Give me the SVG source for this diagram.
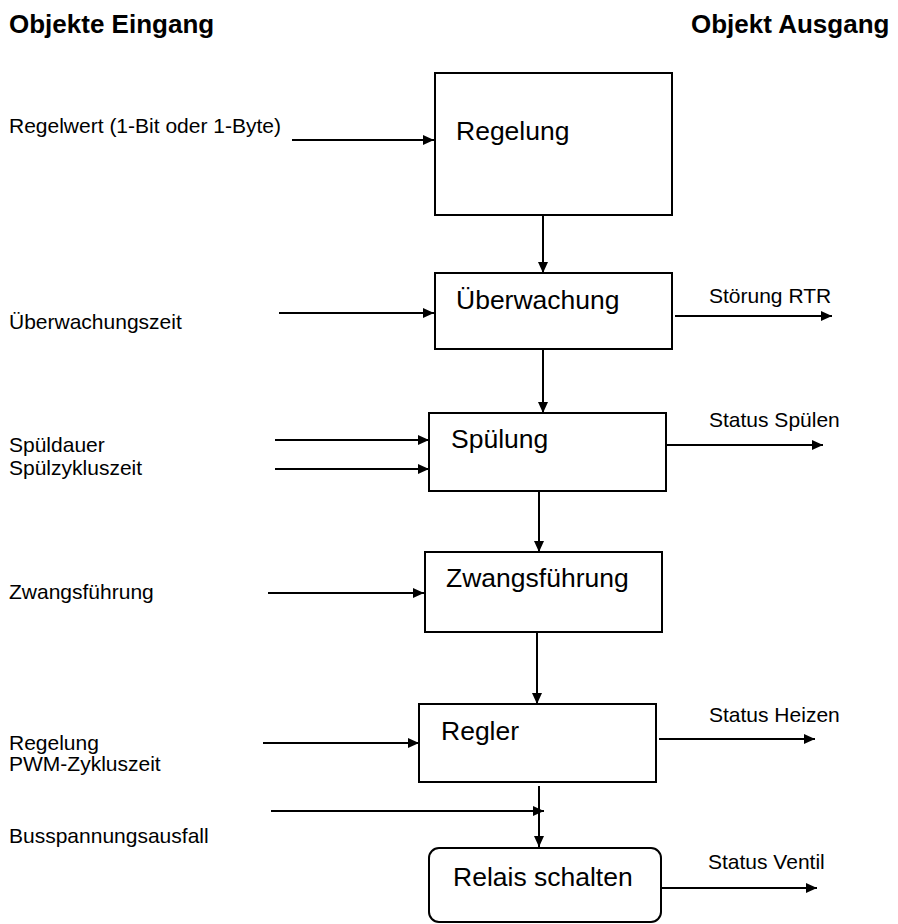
<svg xmlns="http://www.w3.org/2000/svg" width="898" height="924" viewBox="0 0 898 924">
<style>
text{font-family:"Liberation Sans",Arial,sans-serif;fill:#000}
.h{font-size:26px;font-weight:bold}
.b{font-size:26.5px}
.l{font-size:21px}
.box{fill:#fff;stroke:#000;stroke-width:2}
.c line{stroke:#000;stroke-width:2;marker-end:url(#ah)}
</style>
<defs>
<marker id="ah" markerUnits="userSpaceOnUse" markerWidth="11" markerHeight="10" refX="11" refY="5" orient="auto">
<path d="M0,0 L11,5 L0,10 z" fill="#000"/>
</marker>
</defs>
<rect width="898" height="924" fill="#fff"/>
<g id="headings">
<text class="h" x="9" y="33">Objekte Eingang</text>
<text class="h" x="691" y="33">Objekt Ausgang</text>
</g>
<g id="inputs">
<text class="l" x="9" y="133">Regelwert (1-Bit oder 1-Byte)</text>
<text class="l" x="9" y="329">Überwachungszeit</text>
<text class="l" x="9" y="452">Spüldauer</text>
<text class="l" x="9" y="475">Spülzykluszeit</text>
<text class="l" x="9" y="599">Zwangsführung</text>
<text class="l" x="9" y="750">Regelung</text>
<text class="l" x="9" y="771">PWM-Zykluszeit</text>
<text class="l" x="9" y="843">Busspannungsausfall</text>
</g>
<g id="outputs">
<text class="l" x="709" y="303">Störung RTR</text>
<text class="l" x="709" y="427">Status Spülen</text>
<text class="l" x="709" y="722">Status Heizen</text>
<text class="l" x="708" y="869">Status Ventil</text>
</g>
<g id="regelung">
<rect class="box" x="435" y="73" width="237" height="142"/>
<text class="b" x="456" y="140">Regelung</text>
</g>
<g id="ueberwachung">
<rect class="box" x="435" y="273" width="237" height="76"/>
<text class="b" x="456" y="309">Überwachung</text>
</g>
<g id="spuelung">
<rect class="box" x="429" y="413" width="237" height="78"/>
<text class="b" x="451" y="448">Spülung</text>
</g>
<g id="zwangsfuehrung">
<rect class="box" x="425" y="552" width="237" height="80"/>
<text class="b" x="446" y="587">Zwangsführung</text>
</g>
<g id="regler">
<rect class="box" x="419" y="704" width="237" height="78"/>
<text class="b" x="441" y="740">Regler</text>
</g>
<g id="relais">
<rect class="box" x="429" y="848" width="232" height="74" rx="10"/>
<text class="b" x="453" y="886">Relais schalten</text>
</g>
<g id="connectors" class="c">
<line x1="292" y1="140" x2="434" y2="140"/>
<line x1="543" y1="215" x2="543" y2="273"/>
<line x1="279" y1="313" x2="434" y2="313"/>
<line x1="675" y1="316" x2="832" y2="316"/>
<line x1="543" y1="349" x2="543" y2="413"/>
<line x1="275" y1="440" x2="429" y2="440"/>
<line x1="275" y1="469" x2="429" y2="469"/>
<line x1="666" y1="445" x2="823" y2="445"/>
<line x1="539" y1="491" x2="539" y2="552"/>
<line x1="268" y1="593" x2="424" y2="593"/>
<line x1="537" y1="632" x2="537" y2="704"/>
<line x1="263" y1="743" x2="419" y2="743"/>
<line x1="659" y1="739" x2="815" y2="739"/>
<line x1="539" y1="786" x2="539" y2="847"/>
<line x1="271" y1="811" x2="544" y2="811"/>
<line x1="661" y1="888" x2="817" y2="888"/>
</g>
</svg>
